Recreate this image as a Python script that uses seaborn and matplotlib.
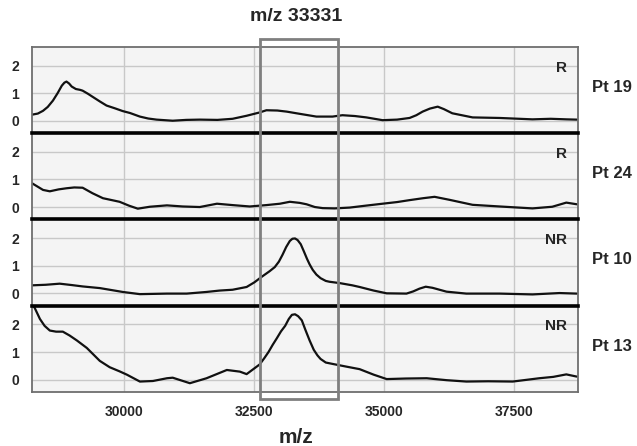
import matplotlib
matplotlib.use('Agg')
import matplotlib.pyplot as plt
import matplotlib.transforms as mtransforms
from matplotlib.patches import Rectangle
import seaborn as sns
import pandas as pd

# Spectra (m/z, relative intensity)
pt19_mz = [28240, 28350, 28450, 28540, 28640, 28730, 28810, 28860, 28900, 28950,
           29000, 29080, 29160, 29210, 29310, 29400, 29540, 29670, 29830, 29980,
           30120, 30310, 30470, 30630, 30940, 31200, 31460, 31800, 32090, 32360,
           32610, 32740, 32950, 33130, 33380, 33700, 34010, 34200, 34440, 34660,
           34970, 35250, 35490, 35620, 35740, 35880, 36030, 36150, 36310, 36700,
           37220, 37850, 38200, 38500, 38700]
pt19_int = [0.22, 0.26, 0.36, 0.5, 0.73, 1.0, 1.27, 1.38, 1.42, 1.35,
            1.24, 1.15, 1.12, 1.09, 0.98, 0.87, 0.7, 0.55, 0.45, 0.35,
            0.28, 0.15, 0.08, 0.04, 0.0, 0.03, 0.04, 0.03, 0.07, 0.18,
            0.3, 0.38, 0.37, 0.33, 0.25, 0.15, 0.15, 0.2, 0.17, 0.12,
            0.02, 0.04, 0.1, 0.2, 0.33, 0.44, 0.51, 0.42, 0.27, 0.12,
            0.1, 0.05, 0.07, 0.05, 0.04]

pt24_mz = [28240, 28450, 28580, 28750, 28900, 29050, 29210, 29400, 29600, 29920,
           30100, 30270, 30500, 30830, 31130, 31460, 31790, 32090, 32420, 32740,
           33000, 33190, 33380, 33510, 33670, 33820, 34050, 34340, 34650, 34970,
           35250, 35490, 35750, 35970, 36260, 36700, 37220, 37850, 38230, 38500,
           38700]
pt24_int = [0.86, 0.62, 0.57, 0.64, 0.68, 0.71, 0.7, 0.5, 0.32, 0.19,
            0.05, -0.06, 0.01, 0.06, 0.02, 0.0, 0.12, 0.07, 0.02, 0.07,
            0.12, 0.19, 0.15, 0.1, 0.0, -0.04, -0.05, -0.02, 0.05, 0.12,
            0.18, 0.25, 0.32, 0.37, 0.26, 0.08, 0.02, -0.05, 0.01, 0.16,
            0.1]

pt10_mz = [28240, 28500, 28770, 29000, 29210, 29540, 29980, 30310, 30830, 31210,
           31590, 31840, 32090, 32360, 32510, 32650, 32800, 32900, 32980, 33050,
           33120, 33190, 33240, 33290, 33340, 33400, 33460, 33520, 33570, 33630,
           33700, 33780, 33880, 33950, 34150, 34390, 34530, 34800, 35050, 35430,
           35560, 35680, 35800, 35930, 36200, 36580, 37220, 37850, 38370, 38700]
pt10_int = [0.29, 0.31, 0.35, 0.3, 0.25, 0.19, 0.05, -0.03, -0.01, -0.01,
            0.05, 0.1, 0.13, 0.23, 0.4, 0.6, 0.8, 0.95, 1.15, 1.4,
            1.68, 1.9, 1.98, 1.99, 1.93, 1.78, 1.52, 1.25, 1.05, 0.85,
            0.68, 0.55, 0.45, 0.42, 0.37, 0.29, 0.23, 0.1, 0.0, -0.01,
            0.07, 0.17, 0.24, 0.2, 0.06, -0.01, -0.01, -0.04, 0.01, -0.01]

pt13_mz = [28260, 28290, 28390, 28480, 28580, 28700, 28830, 28960, 29100, 29290,
           29540, 29730, 29920, 30060, 30310, 30560, 30830, 30940, 31270, 31590,
           31980, 32230, 32360, 32610, 32700, 32780, 32860, 32940, 33020, 33100,
           33170, 33230, 33290, 33350, 33420, 33490, 33570, 33650, 33720, 33780,
           33880, 34010, 34280, 34530, 34800, 35050, 35420, 35820, 36200, 36580,
           37000, 37470, 37980, 38250, 38500, 38700]
pt13_int = [2.68, 2.6, 2.2, 1.95, 1.78, 1.74, 1.74, 1.6, 1.42, 1.15,
            0.68, 0.45, 0.3, 0.18, -0.07, -0.05, 0.05, 0.07, -0.13, 0.05,
            0.35, 0.29, 0.2, 0.55, 0.78, 1.0, 1.26, 1.5, 1.75, 1.95,
            2.2, 2.35, 2.37, 2.3, 2.15, 1.8, 1.42, 1.08, 0.88, 0.75,
            0.62, 0.57, 0.47, 0.38, 0.18, 0.02, 0.04, 0.05, -0.02, -0.07,
            -0.06, -0.07, 0.05, 0.1, 0.19, 0.11]

patients = ['Pt 19', 'Pt 24', 'Pt 10', 'Pt 13']
response = ['R', 'R', 'NR', 'NR']
spectra = [(pt19_mz, pt19_int), (pt24_mz, pt24_int), (pt10_mz, pt10_int), (pt13_mz, pt13_int)]
x_ticks = [30000, 32500, 35000, 37500]
y_ticks = [0, 1, 2]
window = (32615, 34110)   # highlighted m/z 33331 region

sns.set_style('whitegrid', {'axes.facecolor': '#f4f4f4', 'grid.color': '#c8c8c8'})
plt.rcParams['font.family'] = ['Liberation Sans', 'DejaVu Sans']
plt.rcParams['font.weight'] = 'bold'

fig, axes = plt.subplots(4, 1, figsize=(6.37, 4.46), dpi=100, sharex=True)
fig.subplots_adjust(left=0.050, right=0.907, top=0.895, bottom=0.121, hspace=0)

for i, ax in enumerate(axes):
    mz, inten = spectra[i]
    df = pd.DataFrame({'mz': mz, 'intensity': inten})
    sns.lineplot(data=df, x='mz', y='intensity', ax=ax, color='#111111', lw=1.6)
    ax.set_xlim(28235, 38720)
    ax.set_ylim(-0.45, 2.68)
    ax.set_yticks(y_ticks)
    ax.set_xticks(x_ticks)
    ax.set_xlabel('')
    ax.set_ylabel('')
    ax.grid(True, color='#c8c8c8', lw=1)
    ax.tick_params(length=0, labelsize=10, pad=9)
    for lab in ax.get_yticklabels() + ax.get_xticklabels():
        lab.set_fontweight('bold')
    for side in ['left', 'right', 'bottom', 'top']:
        ax.spines[side].set_color('#6e6e6e')
        ax.spines[side].set_linewidth(1.3)
    if i > 0:
        ax.spines['top'].set_color('black')
        ax.spines['top'].set_linewidth(2.6)
        ax.spines['top'].set_zorder(5)
    ax.text(0.98, 0.76, response[i], transform=ax.transAxes, ha='right', va='center',
            fontsize=11, fontweight='bold')
    ax.text(1.027, 0.53, patients[i], transform=ax.transAxes, ha='left', va='center',
            fontsize=12, fontweight='bold')

axes[-1].set_xticklabels([str(t) for t in x_ticks], fontweight='bold')

# highlight box spanning all panels
blend = mtransforms.blended_transform_factory(axes[-1].transData, fig.transFigure)
box = Rectangle((window[0], 0.1054), window[1] - window[0], 0.8072, transform=blend,
                fill=False, ec='#7f7f7f', lw=2, zorder=10, clip_on=False)
fig.add_artist(box)

fig.text(0.465, 0.964, 'm/z 33331', ha='center', va='center', fontsize=14, fontweight='bold')
fig.text(0.465, 0.02, 'm/z', ha='center', va='center', fontsize=15, fontweight='bold')

plt.savefig('out.png', dpi=100)
plt.close()
